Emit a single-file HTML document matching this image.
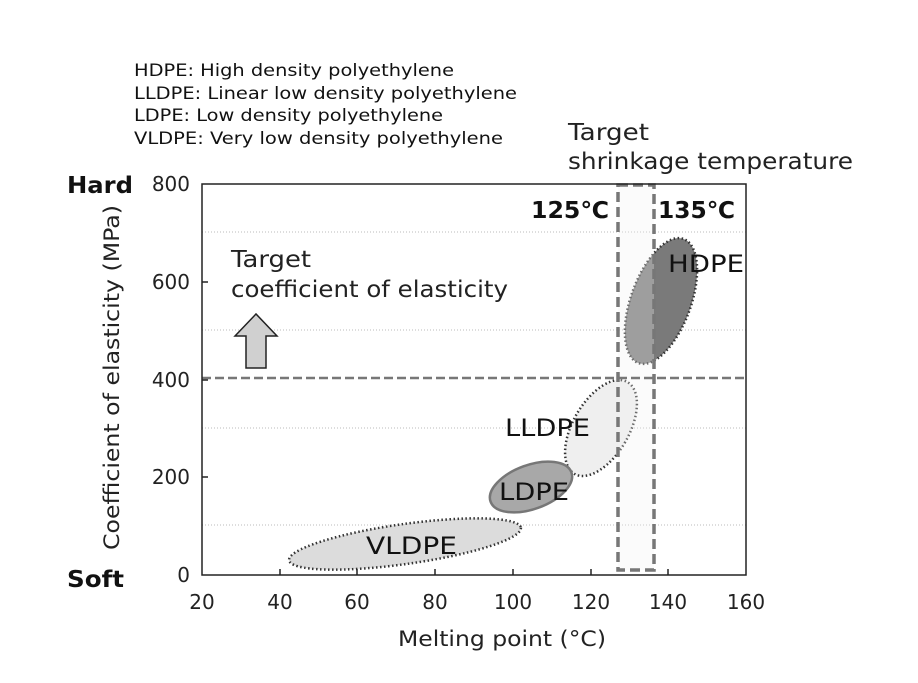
<!DOCTYPE html>
<html><head><meta charset="utf-8"><style>
body{margin:0;background:#fff;}
svg{display:block;font-family:"DejaVu Sans","Liberation Sans",sans-serif;}
</style></head><body>
<svg width="918" height="683" viewBox="0 0 918 683">
<g font-size="17" fill="#111">
<text x="134" y="76" textLength="320" lengthAdjust="spacingAndGlyphs">HDPE: High density polyethylene</text>
<text x="134" y="99" textLength="383" lengthAdjust="spacingAndGlyphs">LLDPE: Linear low density polyethylene</text>
<text x="134" y="121" textLength="309" lengthAdjust="spacingAndGlyphs">LDPE: Low density polyethylene</text>
<text x="134" y="144" textLength="369" lengthAdjust="spacingAndGlyphs">VLDPE: Very low density polyethylene</text>
</g>
<g font-size="23" fill="#222">
<text x="568" y="140" textLength="81" lengthAdjust="spacingAndGlyphs">Target</text>
<text x="568" y="169" textLength="285" lengthAdjust="spacingAndGlyphs">shrinkage temperature</text>
<text x="231" y="267" textLength="80" lengthAdjust="spacingAndGlyphs">Target</text>
<text x="231" y="297" textLength="277" lengthAdjust="spacingAndGlyphs">coefficient of elasticity</text>
</g>
<g stroke="#bbb" stroke-width="1" stroke-dasharray="1,2">
<line x1="202" y1="232" x2="746" y2="232"/>
<line x1="202" y1="330" x2="746" y2="330"/>
<line x1="202" y1="428" x2="746" y2="428"/>
<line x1="202" y1="525" x2="746" y2="525"/>
</g>
<ellipse cx="661" cy="301" rx="30" ry="66" transform="rotate(20 661 301)" fill="#7a7a7a" stroke="#333" stroke-width="2.5" stroke-dasharray="1.5,2.5"/>
<ellipse cx="601" cy="428" rx="28" ry="53" transform="rotate(30 601 428)" fill="#efefef" stroke="#333" stroke-width="2.5" stroke-dasharray="1.5,2.5"/>
<ellipse cx="531" cy="487" rx="43" ry="22" transform="rotate(-20 531 487)" fill="#a8a8a8" stroke="#777" stroke-width="2.5"/>
<ellipse cx="405" cy="544" rx="117" ry="20" transform="rotate(-8 405 544)" fill="#dcdcdc" stroke="#333" stroke-width="2.5" stroke-dasharray="1.5,2.5"/>
<rect x="618" y="185" width="36" height="385" fill="#f2f2f2" fill-opacity="0.3" stroke="#777" stroke-width="3.5" stroke-dasharray="10,5"/>
<line x1="202" y1="378" x2="748" y2="378" stroke="#777" stroke-width="2.5" stroke-dasharray="9,4"/>
<rect x="202" y="184" width="544" height="391" fill="none" stroke="#222" stroke-width="1.5"/>
<g stroke="#222" stroke-width="1.5">
<line x1="202" y1="282" x2="208" y2="282"/><line x1="202" y1="380" x2="208" y2="380"/><line x1="202" y1="477" x2="208" y2="477"/>
<line x1="280" y1="575" x2="280" y2="569"/><line x1="357" y1="575" x2="357" y2="569"/><line x1="435" y1="575" x2="435" y2="569"/><line x1="513" y1="575" x2="513" y2="569"/><line x1="591" y1="575" x2="591" y2="569"/><line x1="668" y1="575" x2="668" y2="569"/>
</g>
<path d="M235 336 L256 314 L277 336 L266 336 L266 368 L246 368 L246 336 Z" fill="#d0d0d0" stroke="#222" stroke-width="1.5"/>
<g font-size="24" fill="#111">
<text x="668" y="272" textLength="76" lengthAdjust="spacingAndGlyphs">HDPE</text>
<text x="505" y="436" textLength="85" lengthAdjust="spacingAndGlyphs">LLDPE</text>
<text x="499" y="500" textLength="70" lengthAdjust="spacingAndGlyphs">LDPE</text>
<text x="366" y="554" textLength="91" lengthAdjust="spacingAndGlyphs">VLDPE</text>
</g>
<g font-size="23" font-weight="bold" fill="#111">
<text x="531" y="218" textLength="78" lengthAdjust="spacingAndGlyphs">125℃</text>
<text x="658" y="218" textLength="77" lengthAdjust="spacingAndGlyphs">135℃</text>
<text x="67" y="193" textLength="66" lengthAdjust="spacingAndGlyphs">Hard</text>
<text x="67" y="587" textLength="57" lengthAdjust="spacingAndGlyphs">Soft</text>
</g>
<g font-size="20" fill="#222" text-anchor="end">
<text x="190" y="191">800</text>
<text x="190" y="289">600</text>
<text x="190" y="387">400</text>
<text x="190" y="484">200</text>
<text x="190" y="582">0</text>
</g>
<g font-size="20" fill="#222" text-anchor="middle">
<text x="202" y="609">20</text><text x="280" y="609">40</text><text x="357" y="609">60</text><text x="435" y="609">80</text><text x="513" y="609">100</text><text x="591" y="609">120</text><text x="668" y="609">140</text><text x="746" y="609">160</text>
</g>
<text x="398" y="646" font-size="21" fill="#222" textLength="208" lengthAdjust="spacingAndGlyphs">Melting point (°C)</text>
<text transform="translate(119 550) rotate(-90)" font-size="21" fill="#222" textLength="345" lengthAdjust="spacingAndGlyphs">Coefficient of elasticity (MPa)</text>
</svg>
</body></html>
